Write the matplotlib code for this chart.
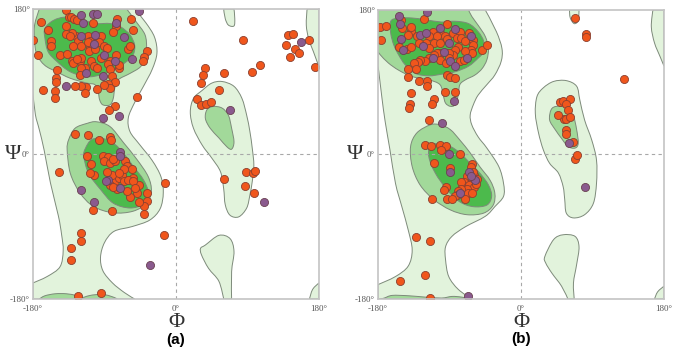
import matplotlib
matplotlib.use("Agg")
import matplotlib.pyplot as plt
from matplotlib.path import Path
from matplotlib.patches import PathPatch

# ---- contour regions, (phi, psi) vertices in degrees ----
# panel (a)
a_light_main = [(-180, 180), (-52, 180), (-38, 163), (-27, 145), (-24, 125), (-30, 105), (-41, 84),
                (-52, 64), (-60, 45), (-58, 28), (-46, 12), (-30, -8), (-19, -28), (-16, -48),
                (-20, -68), (-33, -82), (-55, -90), (-78, -96), (-90, -110), (-95, -128), (-92, -145),
                (-80, -160), (-65, -172), (-52, -180), (-180, -180), (-180, -160), (-162, -152),
                (-146, -140), (-142, -120), (-144, -100), (-148, -77), (-158, -36), (-166, 5),
                (-172, 30), (-177, 49), (-180, 75)]
a_light_lh = [(58, 90), (73, 84), (83, 69), (89, 48), (93, 28), (96, 7), (98, -14), (96, -34),
              (93, -51), (89, -67), (79, -78), (68, -76), (62, -63), (60, -43), (56, -22),
              (45, -5), (33, 11), (22, 32), (18, 52), (22, 69), (33, 79), (45, 88)]
a_light_top = [(60, 180), (62, 168), (66, 160), (73, 159), (74, 168), (73, 180)]
a_light_bottom = [(37, -113), (54, -101), (68, -105), (73, -121), (70, -146), (70, -180),
                  (60, -180), (54, -158), (41, -142), (32, -125), (31, -117)]
a_light_right_top = [(165, 180), (164, 160), (167, 143), (173, 127), (180, 108), (180, 180)]
a_light_right_bottom = [(168, -180), (172, -168), (180, -160), (180, -180)]
a_mid_beta = [(-172, 180), (-62, 180), (-50, 164), (-39, 148), (-37, 131), (-39, 119), (-45, 108),
              (-58, 100), (-73, 92), (-77, 82), (-79, 69), (-83, 61), (-92, 61), (-96, 67),
              (-98, 77), (-102, 86), (-112, 88), (-133, 94), (-150, 102), (-165, 110),
              (-175, 123), (-178, 140), (-178, 160)]
a_mid_alpha = [(-112, 38), (-127, 32), (-135, 18), (-137, 5), (-133, -24), (-121, -48),
               (-104, -65), (-79, -73), (-54, -71), (-37, -61), (-31, -46), (-35, -28),
               (-49, -7), (-66, 14), (-83, 34), (-100, 40)]
a_mid_lh = [(47, 59), (58, 57), (66, 48), (70, 32), (73, 15), (70, 6), (64, 9), (54, 20),
            (43, 32), (37, 44), (39, 55)]
a_mid_bottom = [(-172, -180), (-165, -176), (-152, -173.5), (-138, -173.5), (-126, -175.5),
                (-118, -178), (-110, -176), (-100, -174.5), (-88, -175), (-78, -178), (-74, -180)]
a_dark_beta = [(-165, 156), (-154, 166), (-138, 170), (-117, 166), (-100, 162), (-83, 162),
               (-70, 158), (-58, 148), (-52, 135), (-54, 123), (-62, 115), (-79, 104),
               (-96, 98), (-112, 96), (-133, 102), (-150, 115), (-161, 127), (-165, 144)]
a_dark_alpha = [(-106, 18), (-114, 7), (-116, -3), (-110, -24), (-95, -44), (-79, -61),
                (-58, -67), (-41, -62), (-35, -48), (-41, -32), (-54, -15), (-66, 1),
                (-77, 12), (-91, 19)]

# panel (b)
b_light_main = [(-180, 180), (-45, 180), (-31, 153), (-24, 132), (-25, 116), (-33, 99), (-43, 87),
                (-54, 74), (-60, 62), (-64, 49), (-62, 37), (-54, 22), (-43, 8), (-28, -15),
                (-22, -36), (-22, -52), (-33, -65), (-45, -77), (-70, -90), (-87, -102),
                (-95, -115), (-95, -131), (-91, -152), (-79, -168), (-62, -180), (-180, -180),
                (-180, -162), (-158, -152), (-142, -139), (-137, -119), (-142, -94), (-150, -65),
                (-158, -36), (-165, 6), (-171, 41), (-175, 70), (-179, 103), (-180, 110)]
b_light_lh = [(41, 91), (57, 92), (70, 85), (74, 68), (80, 43), (89, 18), (95, -7), (95, -36),
              (91, -61), (80, -75), (66, -79), (57, -73), (55, -56), (53, -40), (47, -23),
              (36, -11), (28, 6), (22, 27), (18, 51), (20, 72), (28, 83)]
b_light_top = [(61, 180), (62, 170), (67, 163), (72, 167), (73, 180)]
b_light_bottom = [(30, -127), (41, -106), (53, -100), (68, -102), (73, -115), (70, -137),
                  (66, -160), (67, -180), (59, -180), (51, -164), (39, -148), (31, -135)]
b_light_right_top = [(166, 180), (164, 159), (168, 139), (175, 122), (180, 110), (180, 180)]
b_light_right_bottom = [(168, -180), (172, -171), (180, -164), (180, -180)]
b_mid_beta = [(-180, 180), (-66, 180), (-62, 172), (-54, 161), (-45, 147), (-41, 132), (-43, 118),
              (-49, 107), (-58, 99), (-70, 93), (-77, 87), (-79, 74), (-83, 62), (-89, 60),
              (-95, 64), (-98, 74), (-102, 87), (-116, 93), (-137, 97), (-154, 105),
              (-167, 114), (-177, 124), (-180, 128)]
b_mid_alpha = [(-114, 37), (-131, 27), (-139, 10), (-137, -15), (-127, -38), (-110, -56),
               (-89, -69), (-68, -75), (-47, -73), (-35, -63), (-33, -48), (-39, -32),
               (-52, -15), (-64, 2), (-77, 18), (-89, 31), (-102, 37)]
b_mid_lh = [(45, 60), (57, 58), (66, 47), (70, 31), (72, 14), (68, 8), (59, 10), (51, 20),
            (43, 31), (36, 43), (38, 56)]
b_mid_bottom = [(-177, -180), (-172, -178.8), (-162, -175.5), (-141, -176), (-121, -177.6),
                (-100, -178.8), (-87, -176.8), (-75, -177.6), (-62, -180)]
b_dark_beta = [(-164, 166), (-154, 170), (-137, 170), (-121, 168), (-100, 165), (-83, 166),
               (-66, 163), (-54, 153), (-47, 141), (-47, 128), (-54, 120), (-66, 110),
               (-83, 103), (-100, 100), (-116, 98), (-133, 101), (-146, 112), (-154, 124),
               (-160, 136), (-164, 151)]
b_dark_alpha = [(-114, 12), (-116, -3), (-108, -23), (-93, -44), (-77, -59), (-60, -65),
                (-43, -63), (-37, -52), (-41, -38), (-52, -23), (-64, -11), (-77, 2),
                (-89, 10), (-102, 13)]

# ---- residues (phi, psi) ----
a_general = [(-139, 179), (-135, 170), (-132, 170), (-129, 168), (-124, 166), (-105, 163),
             (-170, 164), (-138, 159), (-161, 154), (-180, 141), (-157, 140), (-157, 134),
             (-174, 123), (-146, 123), (-137, 124), (-131, 115), (-130, 113), (-121, 115),
             (-126, 146), (-123, 140), (-131, 150), (-138, 149), (-133, 147), (-111, 146),
             (-100, 142), (-108, 140), (-108, 132), (-110, 128), (-107, 116), (-103, 109),
             (-100, 107), (-114, 107), (-119, 107), (-95, 146), (-97, 139), (-102, 130),
             (-91, 134), (-83, 116), (-85, 112), (-83, 106), (-75, 159), (-74, 167),
             (-57, 167), (-54, 154), (-60, 130), (-58, 134), (-37, 128), (-40, 121),
             (-42, 115), (-72, 107), (-81, 97), (-77, 89), (-85, 87), (-83, 82), (-99, 81),
             (-91, 86), (-121, 98), (-113, 83), (-119, 85), (-127, 85), (-151, 94),
             (-150, 104), (-151, 90), (-167, 80), (-152, 78), (-152, 70), (-114, 76),
             (-49, 71), (-77, 60), (-84, 55), (-119, 134), (-111, 139), (-95, 119),
             (-87, 132), (-75, 123), (-72, 111), (-119, 119), (-125, 118), (-79, 151),
             (-130, 134),
             (-127, 25), (-111, 24), (-97, 18), (-83, 21), (-82, 17), (-112, -2), (-92, -3),
             (-85, -4), (-90, -9), (-83, -11), (-77, -9), (-79, -6), (-64, -9), (-62, -15),
             (-56, -19), (-54, -30), (-47, -38), (-37, -48), (-36, -58), (-40, -64),
             (-46, -60), (-49, -48), (-58, -53), (-62, -46), (-74, -44), (-77, -34),
             (-72, -30), (-81, -26), (-87, -22), (-83, -38), (-79, -41), (-68, -26),
             (-65, -34), (-60, -32), (-54, -34), (-52, -42), (-66, -19), (-72, -24),
             (-103, -26), (-108, -24), (-107, -12), (-104, -70), (-81, -71), (-40, -75),
             (-147, -22), (-14, -36), (-15, -100), (-119, -98), (-119, -108), (-132, -117),
             (-132, -131), (-123, -176), (-94, -173),
             (21, 165), (84, 142), (141, 148), (147, 149), (167, 141), (139, 135), (150, 130),
             (155, 126), (144, 120), (175, 108), (106, 110), (96, 102), (61, 101), (36, 107),
             (34, 98), (31, 88), (54, 80), (26, 68), (32, 61), (38, 62), (44, 64), (60, -31),
             (88, -22), (97, -24), (100, -21), (87, -40), (98, -49)]
a_purple = [(-119, 173), (-105, 174), (-100, 174), (-117, 163), (-119, 146), (-102, 148),
            (-90, 123), (-77, 115), (-75, 163), (-47, 178), (-65, 145), (-55, 118),
            (-92, 97), (-113, 100), (-139, 85), (-72, 47), (-92, 45), (-103, 136),
            (-71, 3), (-71, -2), (-70, -42), (-85, -32), (-88, -34), (-119, -45),
            (-103, -60), (-33, -138), (157, 139), (68, 55), (111, -59)]

b_general = [(-178, 159), (-170, 160), (-176, 143), (-151, 168), (-122, 169), (-93, 163),
             (-139, 154), (-142, 149), (-150, 158), (-139, 159), (-111, 153), (-102, 151),
             (-96, 147), (-106, 147), (-116, 147), (-119, 139), (-110, 139), (-131, 147),
             (-154, 134), (-144, 131), (-139, 134), (-129, 139), (-116, 133), (-102, 139),
             (-93, 144), (-85, 151), (-77, 152), (-81, 145), (-75, 145), (-70, 141),
             (-66, 151), (-60, 143), (-60, 136), (-63, 130), (-62, 126), (-70, 129),
             (-79, 134), (-83, 130), (-85, 124), (-91, 126), (-102, 126), (-106, 127),
             (-110, 124), (-116, 120), (-121, 116), (-127, 118), (-130, 115), (-135, 114),
             (-142, 107), (-132, 107), (-102, 118), (-95, 114), (-77, 116), (-72, 118),
             (-91, 120), (-49, 130), (-43, 137), (-142, 96), (-128, 91), (-118, 91),
             (-118, 85), (-139, 76), (-140, 63), (-141, 58), (-110, 69), (-112, 63),
             (-96, 78), (-83, 78), (-93, 99), (-89, 96), (-83, 95),
             (-116, 43), (-121, 12), (-113, 11), (-102, 12), (-94, 10), (-101, 5), (-77, 1),
             (-109, -10), (-89, -17), (-62, -12), (-63, -16), (-59, -25), (-56, -30),
             (-62, -32), (-68, -27), (-72, -34), (-75, -34), (-65, -38), (-59, -40),
             (-57, -37), (-68, -43), (-75, -43), (-79, -46), (-81, -51), (-67, -48),
             (-62, -48), (-70, -56), (-83, -52), (-94, -40), (-97, -44), (-93, -56),
             (-87, -56), (-61, -22), (-112, -56), (-132, -103), (-114, -108), (-121, -150),
             (-152, -157), (-115, -179),
             (68, 170), (82, 150), (82, 146), (129, 94), (49, 65), (53, 67), (62, 69),
             (57, 63), (59, 56), (54, 44), (57, 44), (62, 47), (47, 49), (57, 31), (57, 25),
             (65, 16), (68, -5), (71, -1)]
b_purple = [(-154, 173), (-118, 177), (-152, 163), (-127, 149), (-119, 151), (-102, 157),
            (-151, 144), (-148, 130), (-123, 135), (-91, 139), (-83, 156), (-63, 148),
            (-97, 128), (-89, 116), (-83, 110), (-68, 120), (-111, 120), (-84, 67),
            (-100, 39), (-91, 1), (-90, -22), (-77, -48), (-66, -22), (-58, -32), (-63, -27),
            (-67, -176), (61, 14), (80, -40)]

LIGHT = "#e2f3dc"
MID = "#a2d99a"
DARK = "#4cba4c"
EDGE = "#7d8a7a"


def outline(pts):
    # closed Catmull-Rom curve through the vertices; vertices on the frame stay sharp
    n = len(pts)
    on_frame = [abs(p[0]) >= 180 or abs(p[1]) >= 180 for p in pts]
    tang = []
    for i in range(n):
        if on_frame[i]:
            tang.append((0.0, 0.0))
        else:
            a, b = pts[i - 1], pts[(i + 1) % n]
            tang.append(((b[0] - a[0]) / 6, (b[1] - a[1]) / 6))
    verts = [pts[0]]
    codes = [Path.MOVETO]
    for i in range(n):
        p, q = pts[i], pts[(i + 1) % n]
        tp, tq = tang[i], tang[(i + 1) % n]
        verts += [(p[0] + tp[0], p[1] + tp[1]), (q[0] - tq[0], q[1] - tq[1]), q]
        codes += [Path.CURVE4] * 3
    return Path(verts, codes)


def draw_panel(ax, lights, mids, darks, general, purple, letter, psi_x):
    for reg in lights:
        ax.add_patch(PathPatch(outline(reg), facecolor=LIGHT, edgecolor=EDGE, lw=0.7, zorder=1))
    for reg in mids:
        ax.add_patch(PathPatch(outline(reg), facecolor=MID, edgecolor=EDGE, lw=0.7, zorder=2))
    for reg in darks:
        ax.add_patch(PathPatch(outline(reg), facecolor=DARK, edgecolor=EDGE, lw=0.7, zorder=3))
    ax.axhline(0, color="#a8a8a8", lw=0.8, ls=(0, (3, 3)), zorder=4)
    ax.axvline(0, color="#a8a8a8", lw=0.8, ls=(0, (3, 3)), zorder=4)
    ax.scatter([p[0] for p in general], [p[1] for p in general], s=34, c="#f0561c",
               edgecolors="#8a4030", linewidths=0.6, zorder=5)
    ax.scatter([p[0] for p in purple], [p[1] for p in purple], s=34, c="#8a5a8e",
               edgecolors="#6a4050", linewidths=0.6, zorder=6)
    ax.set_xlim(-180, 180)
    ax.set_ylim(-180, 180)
    ax.set_xticks([-180, 0, 180])
    ax.set_xticklabels(["-180°", "0°", "180°"])
    ax.set_yticks([-180, 0, 180])
    ax.set_yticklabels(["-180°", "0°", "180°"])
    ax.tick_params(length=0, labelsize=6.5, labelcolor="#555555")
    ax.tick_params(axis="x", pad=4)
    ax.tick_params(axis="y", pad=2)
    for lab in ax.get_xticklabels() + ax.get_yticklabels():
        lab.set_family("Liberation Serif")
    for s in ax.spines.values():
        s.set_color("#c4c4c4")
        s.set_linewidth(1.2)
        s.set_zorder(7)
    ax.text(psi_x, 0.5, "Ψ", transform=ax.transAxes, ha="center", va="center",
            fontsize=16, family="Liberation Serif", color="#333333")
    ax.text(0.5, -0.08, "Φ", transform=ax.transAxes, ha="center", va="center",
            fontsize=16, family="Liberation Serif", color="#333333")
    ax.text(0.5, -0.14, letter, transform=ax.transAxes, ha="center", va="center",
            fontsize=11, fontweight="bold", family="Liberation Sans")


fig = plt.figure(figsize=(6.76, 3.48), dpi=100)
ax_a = fig.add_axes([0.0488, 0.1408, 0.4231, 0.8333])
ax_b = fig.add_axes([0.5592, 0.1408, 0.4231, 0.8305])

draw_panel(ax_a,
           [a_light_main, a_light_lh, a_light_top, a_light_bottom, a_light_right_top, a_light_right_bottom],
           [a_mid_beta, a_mid_alpha, a_mid_lh, a_mid_bottom],
           [a_dark_beta, a_dark_alpha],
           a_general, a_purple, "(a)", -0.069)
draw_panel(ax_b,
           [b_light_main, b_light_lh, b_light_top, b_light_bottom, b_light_right_top, b_light_right_bottom],
           [b_mid_beta, b_mid_alpha, b_mid_lh, b_mid_bottom],
           [b_dark_beta, b_dark_alpha],
           b_general, b_purple, "(b)", -0.08)

fig.savefig("out.png", dpi=100)
